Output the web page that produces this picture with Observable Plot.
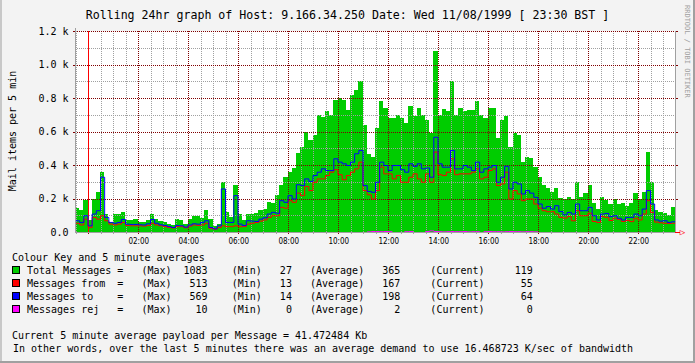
<!DOCTYPE html>
<html><head><meta charset="utf-8">
<script src="https://cdn.jsdelivr.net/npm/d3@7"></script>
<script src="https://cdn.jsdelivr.net/npm/@observablehq/plot@0.6"></script>
<style>
html,body{margin:0;padding:0;background:#f3f3f3;}
#chart{position:relative;width:695px;height:363px;background:#f3f3f3;overflow:hidden;font-family:"DejaVu Sans Mono",monospace;color:#000;}
#edgeL{position:absolute;left:0;top:0;width:2px;height:363px;background:#c8c8c8;}
#edgeB{position:absolute;left:0;top:361px;width:695px;height:2px;background:#a0a0a0;}
#edgeR{position:absolute;left:693px;top:0;width:2px;height:363px;background:#a0a0a0;}
#title{position:absolute;left:0;top:8px;width:695px;text-align:center;font-size:11.6px;line-height:14px;white-space:pre;}
#credit{position:absolute;left:683px;top:5px;writing-mode:vertical-rl;font-size:7px;line-height:8px;color:#a0a0a0;white-space:pre;}
#ylabel{position:absolute;left:13px;top:131px;transform:translate(-50%,-50%) rotate(-90deg);font-size:10px;line-height:12px;white-space:pre;}
#plot{position:absolute;left:0;top:0;}
.ln{position:absolute;font-size:10px;line-height:12px;white-space:pre;}
.sw{position:absolute;width:6px;height:6px;border:1px solid #000;}
#plot g[aria-label^="x-axis"] text{font-family:"DejaVu Sans Condensed","DejaVu Sans",sans-serif;font-size:8px;}
</style></head><body>
<div id="chart">
  <div id="edgeL"></div><div id="edgeB"></div><div id="edgeR"></div>
  <div id="plot"></div>
  <div id="title"></div>
  <div id="credit">RRDTOOL / TOBI OETIKER</div>
  <div id="ylabel">Mail items per 5 min</div>
  <div id="legend"></div>
</div>
<script>
// ---- Data (10-minute buckets) ----
const titleText = "Rolling 24hr graph of Host: 9.166.34.250 Date: Wed 11/08/1999 [ 23:30 BST ]";
const startHour = -32 / 60;   // 23:28 of the previous day
const stepHours = 10 / 60;

const totalMessages = [
  146,130,194,70,200,240,360,110,62,108,110,120,72,74,76,62,60,70,105,80,66,58,48,42,80,70,50,80,95,
  94,82,130,80,35,50,300,120,90,280,110,70,105,110,112,130,135,180,172,220,280,330,360,380,470,510,600,550,580,
  700,685,720,700,790,800,790,730,820,850,900,640,465,450,620,780,740,680,680,700,680,650,750,690,740,700,670,590,
  1083,700,735,720,900,700,740,720,730,730,780,700,680,740,740,560,670,690,510,590,580,420,450,440,390,330,278,265,240,260,
  205,195,210,195,300,210,230,280,175,140,210,190,165,200,165,175,155,175,230,200,240,480,300,130,120,115,100,150
];
const messagesFrom = [
  55,45,80,30,90,80,100,70,50,45,50,60,42,40,40,40,38,42,55,45,40,35,30,27,35,35,28,38,45,
  42,45,55,25,20,30,40,35,35,40,35,35,50,55,60,68,75,90,100,100,150,145,190,180,235,220,275,250,300,
  320,320,340,360,375,345,315,340,360,380,420,250,225,200,250,390,350,350,320,340,300,300,330,350,320,300,350,300,
  480,345,340,360,440,345,350,350,350,360,380,320,330,370,380,280,290,360,200,250,230,190,200,200,170,145,130,124,124,110,
  90,86,95,70,130,100,100,115,66,60,95,90,72,85,78,66,72,65,85,75,110,190,120,62,58,55,54,55
];
const messagesTo = [
  70,60,100,40,110,130,330,90,60,55,60,78,50,48,48,46,45,52,78,55,46,42,35,30,42,40,32,45,52,
  50,60,70,30,22,40,260,60,60,220,50,42,70,68,66,80,88,110,120,115,190,180,220,200,285,280,320,305,340,
  360,380,370,370,440,420,410,400,420,470,490,280,245,240,300,420,400,370,400,400,375,360,410,395,410,380,385,330,
  569,410,390,390,490,380,380,400,390,370,420,360,380,390,400,300,330,395,260,300,290,230,250,235,210,170,145,155,140,160,
  125,105,120,110,170,130,130,150,100,75,110,114,95,100,85,75,90,90,110,100,140,250,170,75,68,70,60,64
];
const messagesRej = [
  0,0,0,0,0,0,0,0,0,0,0,0,0,0,0,0,0,0,0,0,0,0,0,0,0,0,0,0,0,0,0,0,0,0,0,
  0,0,0,0,0,0,0,0,0,0,0,0,0,0,0,0,0,0,0,0,0,0,0,0,0,0,0,0,0,0,0,0,0,0,0,
  4,6,6,5,6,5,0,0,0,5,6,0,0,0,6,10,6,5,4,5,6,
  5,5,6,4,5,5,0,5,6,5,5,4,5,6,5,5,4,5,5,4,
  0,0,0,0,0,0,0,0,0,0,0,0,0,0,0,0,0,0,0,0,0,0,0,0,0,0,0,0,0,0,0,0,0
];

const yTickValues = [0,200,400,600,800,1000,1200];
const yTickLabels = ["0.0","0.2 k","0.4 k","0.6 k","0.8 k","1.0 k","1.2 k"];
const xTickHours = [2,4,6,8,10,12,14,16,18,20,22];
const xTickLabels = ["02:00","04:00","06:00","08:00","10:00","12:00","14:00","16:00","18:00","20:00","22:00"];

const seriesNames = ["Total Messages","Messages from","Messages to","Messages rej"];
const seriesColors = ["#00cc00","#ff0000","#0000ff","#ff00ff"];
const statMax = [1083,513,569,10];
const statMin = [27,13,14,0];
const statAvg = [365,167,198,2];
const statCur = [119,55,64,0];
const legendHeading = "Colour Key and 5 minute averages";
const footer1 = "Current 5 minute average payload per Message = 41.472484 Kb";
const footer2 = "In other words, over the last 5 minutes there was an average demand to use 16.468723 K/sec of bandwidth";

// ---- Build tables ----
const xStart = startHour, xEnd = startHour + 24;
const buckets = totalMessages.map((v, i) => ({
  t0: startHour + i * stepHours, t1: startHour + (i + 1) * stepHours,
  total: v, from: messagesFrom[i], to: messagesTo[i], rej: messagesRej[i]
}));
const steps = key => buckets.flatMap(b => [{t: b.t0, v: b[key]}, {t: b.t1, v: b[key]}]);

const yMajor = [200,400,600,800,1000,1200];
const yMinor = [100,300,500,700,900,1100];
const xMajor = [0,2,4,6,8,10,12,14,16,18,20,22];
const xMinor = d3.range(-0.5, 23.5, 0.5).filter(h => h % 2 !== 0);
const darkRed = "#800000", gridGrey = "#a0a0a0";

const chart = Plot.plot({
  width: 695, height: 250,
  marginLeft: 75, marginRight: 20, marginTop: 31, marginBottom: 18,
  style: {background: "transparent", fontFamily: "DejaVu Sans Mono", fontSize: "10px", color: "#000", overflow: "visible"},
  x: {domain: [xStart, xEnd], ticks: xTickHours, tickFormat: d => xTickLabels[xTickHours.indexOf(d)], tickSize: 0, tickPadding: 6, label: null},
  y: {domain: [0, 1200], ticks: yTickValues, tickFormat: d => yTickLabels[yTickValues.indexOf(d)], tickSize: 0, tickPadding: 7, label: null},
  marks: [
    Plot.frame({fill: "white", stroke: "none"}),
    Plot.rectY(buckets, {x1: "t0", x2: "t1", y: "total", fill: "#00cc00", inset: 0, shapeRendering: "crispEdges"}),
    Plot.ruleY(yMinor, {stroke: gridGrey, strokeDasharray: "1,1", shapeRendering: "crispEdges"}),
    Plot.ruleX(xMinor, {stroke: gridGrey, strokeDasharray: "1,1", shapeRendering: "crispEdges"}),
    Plot.ruleY(yMajor, {stroke: darkRed, strokeDasharray: "1,1", shapeRendering: "crispEdges"}),
    Plot.ruleX(xMajor, {stroke: darkRed, strokeDasharray: "1,1", shapeRendering: "crispEdges"}),
    Plot.ruleX(xMinor, {y1: -14, y2: 0, stroke: gridGrey, shapeRendering: "crispEdges"}),
    Plot.ruleX(xMajor, {y1: -14, y2: 0, stroke: darkRed, shapeRendering: "crispEdges"}),
    Plot.ruleY(yMajor, {x1: xStart - 0.1, x2: xStart, stroke: darkRed, shapeRendering: "crispEdges"}),
    Plot.ruleY(yMajor, {x1: xEnd, x2: xEnd + 0.12, stroke: darkRed, shapeRendering: "crispEdges"}),
    Plot.ruleX([0], {stroke: "#ff0000", shapeRendering: "crispEdges"}),
    Plot.line(steps("from"), {x: "t", y: "v", stroke: "#ff0000", strokeWidth: 1}),
    Plot.line(steps("to"), {x: "t", y: "v", stroke: "#0000ff", strokeWidth: 1}),
    Plot.line(steps("rej"), {x: "t", y: "v", stroke: "#ff00ff", strokeWidth: 1}),
    Plot.ruleX([xStart], {y1: 0, y2: 1220, stroke: gridGrey, shapeRendering: "crispEdges"}),
    Plot.ruleX([xEnd], {y1: 0, y2: 1200, stroke: gridGrey, shapeRendering: "crispEdges"}),
    Plot.ruleY([0], {x1: xStart, x2: xEnd, stroke: gridGrey, shapeRendering: "crispEdges"}),
    Plot.ruleY([0], {x1: xEnd, x2: xEnd + 0.2, stroke: "#ff0000", shapeRendering: "crispEdges"}),
    Plot.text([0], {x: () => xEnd, y: () => 0, text: () => "\u25B7", fill: "#ff0000", fontSize: 9, dx: 7, textAnchor: "middle"})
  ]
});
document.getElementById("plot").appendChild(chart);
document.getElementById("title").textContent = titleText;

// ---- Legend ----
const legend = document.getElementById("legend");
function addLine(text, left, top) {
  const d = document.createElement("div");
  d.className = "ln"; d.style.left = left + "px"; d.style.top = top + "px"; d.textContent = text;
  legend.appendChild(d);
}
addLine(legendHeading, 12, 252);
seriesNames.forEach((name, i) => {
  const top = 265 + i * 13;
  const sw = document.createElement("div");
  sw.className = "sw"; sw.style.left = "12px"; sw.style.top = (top + 1) + "px"; sw.style.background = seriesColors[i];
  legend.appendChild(sw);
  const txt = name.padEnd(14) + " =" + "   (Max)" + String(statMax[i]).padStart(6) +
    "    (Min)" + String(statMin[i]).padStart(5) + "   (Average)" + String(statAvg[i]).padStart(6) +
    "     (Current)" + String(statCur[i]).padStart(8);
  addLine(txt, 27, top);
});
addLine(footer1, 12, 330);
addLine(footer2, 13, 343);
</script>
</body></html>
